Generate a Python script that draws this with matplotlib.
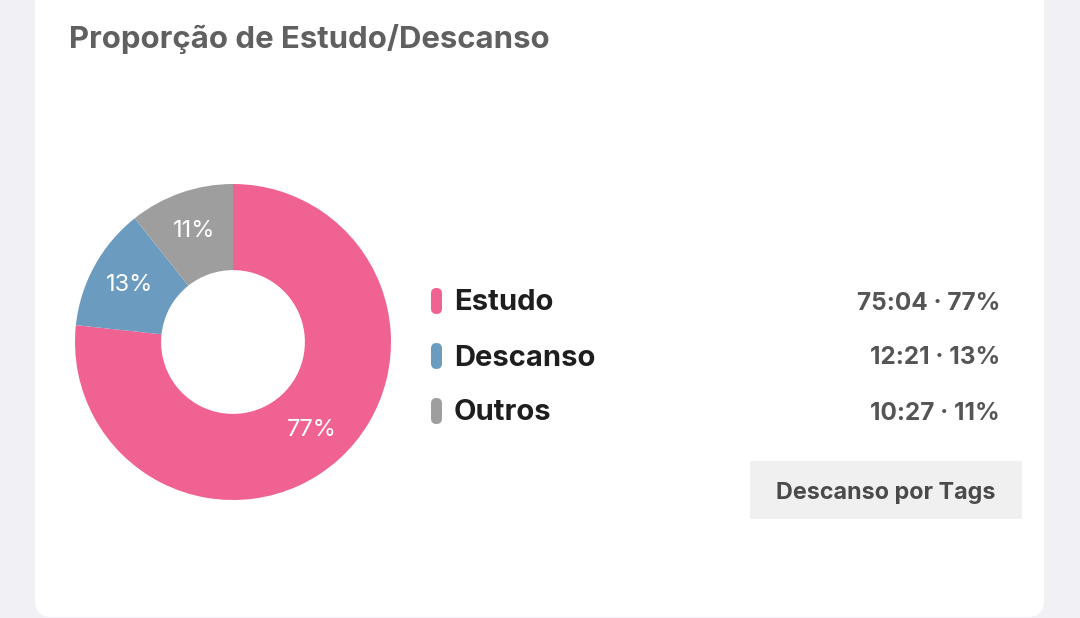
import matplotlib
matplotlib.use('Agg')
import matplotlib.pyplot as plt
from matplotlib.patches import FancyBboxPatch, Rectangle

# data
categories = ['Estudo', 'Descanso', 'Outros']
times = ['75:04', '12:21', '10:27']
minutes = [75 * 60 + 4, 12 * 60 + 21, 10 * 60 + 27]
pct_labels = ['77%', '13%', '11%']
colors = ['#f06292', '#6c9bc0', '#9e9e9e']

W, H = 1080, 618
fig = plt.figure(figsize=(W / 100, H / 100), dpi=100)
fig.patch.set_facecolor('#f1f0f5')
plt.rcParams['font.family'] = ['Inter', 'DejaVu Sans']

# background axes in pixel coords
bg = fig.add_axes([0, 0, 1, 1])
bg.set_xlim(0, W)
bg.set_ylim(H, 0)
bg.axis('off')

card = FancyBboxPatch((35, -30), 1009, 647, boxstyle='round,pad=0,rounding_size=16',
                      facecolor='white', edgecolor='none')
bg.add_patch(card)

bg.text(69, 39, 'Proporção de Estudo/Descanso', fontsize=22.4, fontweight='bold',
        color='#606060', va='center', ha='left')

# legend rows
row_y = [301, 356, 411]
for i, cat in enumerate(categories):
    pill = FancyBboxPatch((431, row_y[i] - 13), 11, 26, boxstyle='round,pad=0,rounding_size=5.5',
                          facecolor=colors[i], edgecolor='none')
    bg.add_patch(pill)
    bg.text(454, row_y[i] + 2, cat, fontsize=21, fontweight='bold', color='#1e1e1e',
            va='center', ha='left')
    bg.text(1000, row_y[i] + 2, times[i] + ' \u00b7 ' + pct_labels[i], fontsize=17.5,
            fontweight='bold', color='#555555', va='center', ha='right')

# button
bg.add_patch(Rectangle((750, 461), 272, 58, facecolor='#f0f0f0', edgecolor='none'))
bg.text(886, 493, 'Descanso por Tags', fontsize=16.8, fontweight='bold', color='#4a4a4a',
        va='center', ha='center')

# donut
ax = fig.add_axes([75 / W, (H - 500) / H, 316 / W, 316 / H])
wedges, texts, autotexts = ax.pie(minutes, colors=colors, startangle=90, counterclock=False,
                                  radius=1, wedgeprops=dict(width=0.545, edgecolor='none'),
                                  autopct='%1.0f%%', pctdistance=0.745,
                                  textprops=dict(color='white', fontsize=17))
for t, lab in zip(autotexts, pct_labels):
    t.set_text(lab)
ax.set_xlim(-1, 1)
ax.set_ylim(-1, 1)
ax.set_aspect('equal')

plt.savefig('out.png', dpi=100, facecolor=fig.get_facecolor())
